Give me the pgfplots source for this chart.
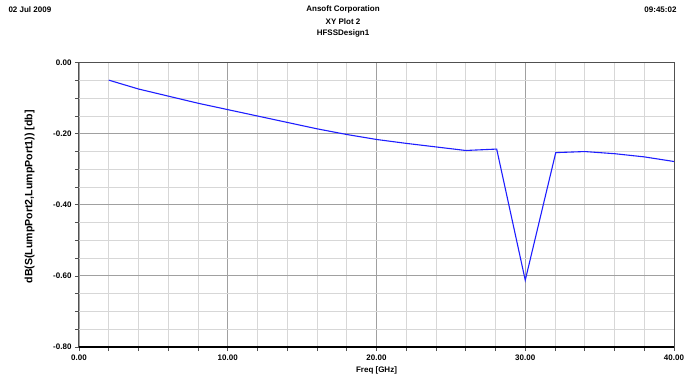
\documentclass[border=0pt]{standalone}
\usepackage{pgfplots}
\pgfplotsset{compat=1.18}
\usepackage{fontspec}
\setmainfont{Liberation Sans}
\definecolor{majgrid}{RGB}{160,160,160}
\definecolor{mingrid}{RGB}{215,215,215}
\definecolor{frame}{RGB}{80,80,80}
\begin{document}
\begin{tikzpicture}[font=\fontsize{8}{9.5}\selectfont\bfseries]
\begin{axis}[
  name=main,
  width=595pt, height=284.3pt, scale only axis,
  xmin=0, xmax=40, ymin=-0.8, ymax=0,
  xtick={0,10,20,30,40},
  xticklabels={0.00,10.00,20.00,30.00,40.00},
  minor x tick num=4,
  ytick={-0.8,-0.6,-0.4,-0.2,0},
  yticklabels={-0.80,-0.60,-0.40,-0.20,0.00},
  minor y tick num=3,
  grid=both,
  major grid style={majgrid, line width=0.9pt},
  minor grid style={mingrid, line width=0.9pt},
  tick align=outside,
  major tick length=4pt, minor tick length=4pt,
  tick style={frame, line width=0.8pt},
  xtick pos=bottom, ytick pos=left,
  axis line style={frame, line width=1pt},
  tick label style={font=\fontsize{8}{9}\selectfont\bfseries},
  xlabel={Freq [GHz]},
  ylabel={dB(S(LumpPort2,LumpPort1)) [db]},
  xlabel style={at={(axis description cs:0.5,-0.081)}, anchor=center},
  ylabel style={at={(axis description cs:-0.083,0.528)}, anchor=center, font=\fontsize{10.6}{12}\selectfont\bfseries},
]
\addplot[color={rgb,255:red,30;green,30;blue,255}, line width=1.1pt] coordinates {
(2,-0.049) (4,-0.074) (6,-0.094) (8,-0.114) (10,-0.132)
(12,-0.150) (14,-0.168) (16,-0.186) (18,-0.202) (20,-0.216)
(22,-0.227) (24,-0.237) (26,-0.247) (28.08,-0.243) (30,-0.612)
(32.05,-0.253) (34,-0.250) (36,-0.256) (38,-0.265) (40,-0.278)
};
\draw[black, line width=1.6pt] (rel axis cs:0,0) -- (rel axis cs:1,0);
\end{axis}
\begin{scope}[shift={(main.south west)}, x=1pt, y=1pt]
\path[use as bounding box] (-79,-39) rectangle (613,347);
\node[anchor=west] at (-74,337.5) {02 Jul 2009};
\node[anchor=east] at (601,337.5) {09:45:02};
\node at (264,337.5) {Ansoft Corporation};
\node at (264,325.5) {XY Plot 2};
\node at (264,313.5) {HFSSDesign1};
\end{scope}
\end{tikzpicture}
\end{document}
